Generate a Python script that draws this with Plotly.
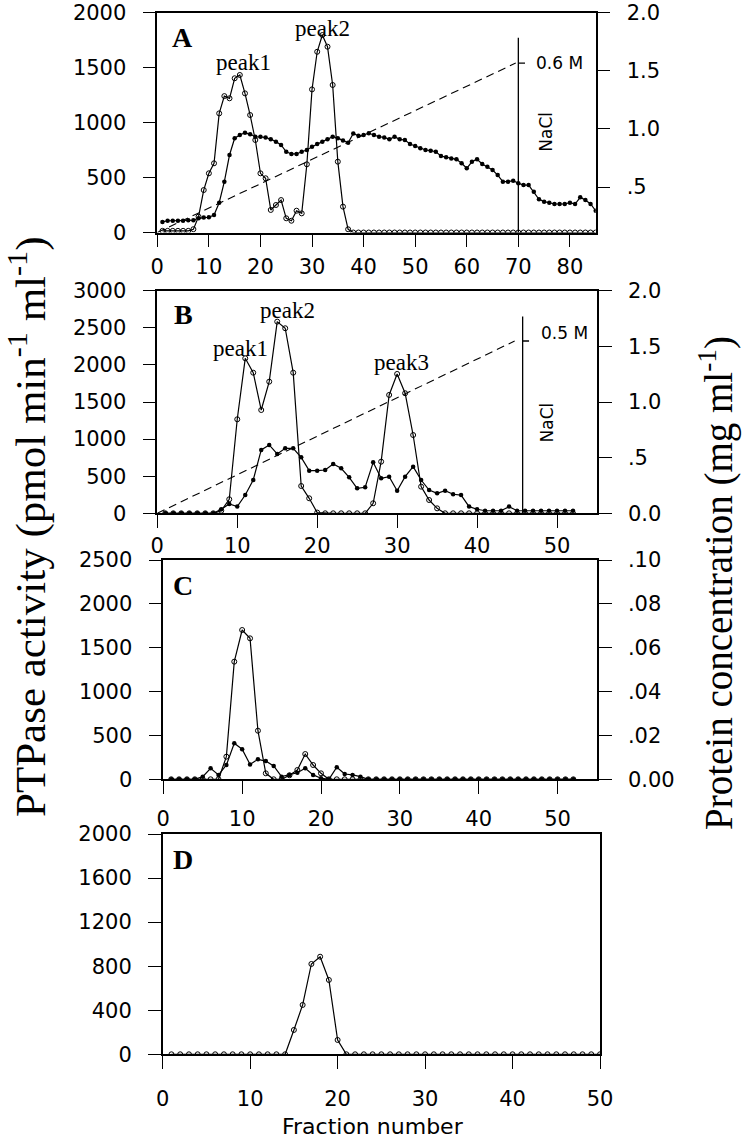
import plotly.graph_objects as go

# ---------------- DATA ----------------
# Panel A
frac_a = list(range(1, 86))
act_a = [15, 15, 15, 15, 15, 15, 30, 144, 386, 538, 629, 1083, 1240, 1220, 1402, 1432, 1265,
         1068, 841, 538, 493, 205, 250, 295, 129, 107, 198, 174, 620, 1301, 1643, 1795, 1689,
         1341, 644, 235, 29] + [0] * 48
prot_a = [0.20, 0.21, 0.21, 0.21, 0.21, 0.215, 0.215,
          0.231, 0.237, 0.24, 0.26,
          0.365, 0.546, 0.775, 0.919, 0.947, 0.967, 0.953, 0.932, 0.932, 0.926, 0.91, 0.89,
          0.861, 0.803, 0.784, 0.784, 0.803, 0.818, 0.846, 0.87, 0.89, 0.91, 0.932, 0.92, 0.9,
          0.88, 0.96, 0.94, 0.947, 0.962,
          0.947, 0.932, 0.926, 0.91, 0.932, 0.91, 0.904, 0.87, 0.852, 0.833, 0.818, 0.812,
          0.803, 0.766, 0.755, 0.746, 0.738, 0.704, 0.661, 0.717, 0.738, 0.698, 0.675, 0.646,
          0.603, 0.546, 0.546, 0.554, 0.532, 0.517, 0.517, 0.46, 0.394, 0.374, 0.365, 0.354,
          0.354, 0.354, 0.365, 0.354, 0.411, 0.388, 0.354, 0.296]
nacl_a_frac = [0, 69.5]
nacl_a_m = [0, 0.6]
nacl_a_line_frac = [70, 70]
nacl_a_line_m = [0, 0.69]
nacl_a_tick_frac = [70, 71.3]
nacl_a_tick_m = [0.6, 0.6]

# Panel B
frac_b = list(range(1, 53))
act_b = [0, 0, 0, 0, 0, 0, 0, 35, 189, 1267, 2089, 1895, 1392, 1774, 2583, 2494, 1895, 368,
         202, 10, 0, 0, 0, 0, 0, 0, 135, 696, 1595, 1878, 1618, 1055, 359, 179, 67] + [0] * 17
prot_b = [0, 0, 0, 0, 0, 0, 0, 0.036, 0.084, 0.06, 0.164, 0.299, 0.569, 0.614, 0.533, 0.584,
          0.584, 0.503, 0.383, 0.383, 0.389, 0.443, 0.404, 0.323, 0.225, 0.234, 0.458, 0.314,
          0.329, 0.203, 0.329, 0.419, 0.299, 0.209, 0.18, 0.203, 0.171, 0.164, 0.06, 0.036,
          0.023, 0.023, 0.023, 0.06, 0.023, 0.023, 0.023, 0.023, 0.023, 0.023, 0.023, 0.023]
nacl_b_frac = [0, 44.7]
nacl_b_m = [0, 0.5]
nacl_b_line_frac = [45.7, 45.7]
nacl_b_line_m = [0, 0.571]
nacl_b_tick_frac = [45.7, 46.5]
nacl_b_tick_m = [0.5, 0.5]

# Panel C
frac_c = list(range(1, 53))
act_c = [0, 0, 0, 0, 0, 0, 0, 258, 1341, 1702, 1607, 554, 68, 0, 0, 46, 106, 288, 163, 68] + [0] * 32
prot_c = [0, 0, 0, 0, 0.0012, 0.005, 0.002, 0.0065, 0.0164, 0.0137, 0.0068, 0.0091, 0.0083,
          0.0061, 0.0012, 0.002, 0.003, 0.005, 0.002, 0.0005, 0, 0.0055, 0.0024, 0.002,
          0.0012] + [0] * 27

# Panel D
frac_d = list(range(1, 51))
act_d = [0] * 14 + [221, 448, 820, 886, 675, 130] + [0] * 30

# tick labels
ticks_a_left = [0, 500, 1000, 1500, 2000]
ticks_a_right = [0.5, 1.0, 1.5, 2.0]
ticktext_a_right = [".5", "1.0", "1.5", "2.0"]
ticks_b_left = [0, 500, 1000, 1500, 2000, 2500, 3000]
ticks_b_right = [0, 0.5, 1.0, 1.5, 2.0]
ticktext_b_right = ["0.0", ".5", "1.0", "1.5", "2.0"]
ticks_c_left = [0, 500, 1000, 1500, 2000, 2500]
ticks_c_right = [0, 0.02, 0.04, 0.06, 0.08, 0.10]
ticktext_c_right = ["0.00", ".02", ".04", ".06", ".08", ".10"]
ticks_d_left = [0, 400, 800, 1200, 1600, 2000]
ticks_x_a = [0, 10, 20, 30, 40, 50, 60, 70, 80]
ticks_x_bcd = [0, 10, 20, 30, 40, 50]

# ---------------- LAYOUT HELPERS ----------------
W, H = 747, 1138


def px_x(v):
    return v / W


def px_y(v):
    return 1 - v / H


TICKFONT = dict(family="DejaVu Sans", size=21, color="black")
SERIF = "Liberation Serif, Times New Roman, serif"

fig = go.Figure()

line_style = dict(color="black", width=1.2)
open_marker = dict(symbol="circle-open", size=5, color="black", line=dict(width=1, color="black"))
fill_marker = dict(symbol="circle", size=4.5, color="black")
dash_style = dict(color="black", width=1.1, dash="8px,5px")
vline_style = dict(color="black", width=1.3)


def add_series(x, y, xa, ya, marker):
    fig.add_trace(go.Scatter(x=x, y=y, xaxis=xa, yaxis=ya, mode="lines+markers",
                             line=line_style, marker=marker, showlegend=False, hoverinfo="skip"))


def add_line(x, y, xa, ya, style):
    fig.add_trace(go.Scatter(x=x, y=y, xaxis=xa, yaxis=ya, mode="lines",
                             line=style, showlegend=False, hoverinfo="skip"))


# Panel A traces
add_series(frac_a, act_a, "x", "y", open_marker)
add_series(frac_a, prot_a, "x", "y2", fill_marker)
add_line(nacl_a_frac, nacl_a_m, "x", "y3", dash_style)
add_line(nacl_a_line_frac, nacl_a_line_m, "x", "y3", vline_style)
add_line(nacl_a_tick_frac, nacl_a_tick_m, "x", "y3", vline_style)

# Panel B traces
add_series(frac_b, act_b, "x2", "y4", open_marker)
add_series(frac_b, prot_b, "x2", "y5", fill_marker)
add_line(nacl_b_frac, nacl_b_m, "x2", "y6", dash_style)
add_line(nacl_b_line_frac, nacl_b_line_m, "x2", "y6", vline_style)
add_line(nacl_b_tick_frac, nacl_b_tick_m, "x2", "y6", vline_style)

# Panel C traces
add_series(frac_c, act_c, "x3", "y7", open_marker)
add_series(frac_c, prot_c, "x3", "y8", fill_marker)

# Panel D traces
add_series(frac_d, act_d, "x4", "y9", open_marker)

AX = dict(showgrid=False, zeroline=False, showline=True, linecolor="black", linewidth=1.5,
          ticks="outside", ticklen=13, tickwidth=1.3, tickcolor="black", tickfont=TICKFONT,
          automargin=False)


def xax(dom, rng, tv, anchor, standoff):
    d = dict(AX)
    d.update(domain=dom, range=rng, tickvals=tv, anchor=anchor, mirror=True,
             ticklabelstandoff=standoff)
    return d


def yleft(dom, rng, tv, anchor):
    d = dict(AX)
    d.update(domain=dom, range=rng, tickvals=tv, anchor=anchor, mirror=True,
             ticklabelstandoff=12)
    return d


def yright(rng, tv, tt, anchor, over):
    d = dict(AX)
    d.update(range=rng, tickvals=tv, ticktext=tt, anchor=anchor, overlaying=over,
             side="right", ticklabelstandoff=12)
    return d


def yhidden(rng, over):
    return dict(range=rng, overlaying=over, visible=False, showgrid=False, zeroline=False)


# pixel boxes of panels (page pixels)
A_x = [px_x(157.3), px_x(595.7)]
A_y = [px_y(232.5), px_y(12.5)]
B_x = [px_x(157.3), px_x(597)]
B_y = [px_y(513.3), px_y(290.7)]
C_x = [px_x(163.3), px_x(597)]
C_y = [px_y(779.3), px_y(560)]
D_x = [px_x(162.7), px_x(600)]
D_y = [px_y(1054.3), px_y(834)]

fig.update_layout(
    width=W, height=H, margin=dict(l=0, r=0, t=0, b=0, pad=0, autoexpand=False),
    paper_bgcolor="white", plot_bgcolor="white", showlegend=False,
    xaxis=xax(A_x, [0, 85], ticks_x_a, "y", 2),
    yaxis=yleft(A_y, [0, 2000], ticks_a_left, "x"),
    yaxis2=yright([0.109, 2.0], ticks_a_right, ticktext_a_right, "x", "y"),
    yaxis3=yhidden([0, 0.779], "y"),
    xaxis2=xax(B_x, [0, 55], ticks_x_bcd, "y4", 0),
    yaxis4=yleft(B_y, [0, 3000], ticks_b_left, "x2"),
    yaxis5=yright([0, 2.0], ticks_b_right, ticktext_b_right, "x2", "y4"),
    yaxis6=yhidden([0, 0.646], "y4"),
    xaxis3=xax(C_x, [0, 55], ticks_x_bcd, "y7", 7),
    yaxis7=yleft(C_y, [0, 2500], ticks_c_left, "x3"),
    yaxis8=yright([0, 0.10], ticks_c_right, ticktext_c_right, "x3", "y7"),
    xaxis4=xax(D_x, [0, 50], ticks_x_bcd, "y9", 12),
    yaxis9=yleft(D_y, [0, 2000], ticks_d_left, "x4"),
)

ann = []


def label(text, x, y, xref, yref, size, family=SERIF, bold=False, xanchor="center", angle=0):
    t = f"<b>{text}</b>" if bold else text
    ann.append(dict(text=t, x=x, y=y, xref=xref, yref=yref, showarrow=False,
                    xanchor=xanchor, yanchor="middle", textangle=angle,
                    font=dict(family=family, size=size, color="black")))


# panel letters
label("A", px_x(182.5), px_y(38), "paper", "paper", 28, bold=True)
label("B", px_x(183), px_y(315), "paper", "paper", 28, bold=True)
label("C", px_x(182.5), px_y(585), "paper", "paper", 28, bold=True)
label("D", px_x(182.5), px_y(859), "paper", "paper", 28, bold=True)

# peak labels
label("peak1", 16.7, 1545, "x", "y", 23)
label("peak2", 32.1, 1854, "x", "y", 23)
label("peak1", 10.4, 2215, "x2", "y4", 23)
label("peak2", 16.3, 2727, "x2", "y4", 23)
label("peak3", 30.5, 2033, "x2", "y4", 23)

# NaCl labels
label("0.6 M", 73.0, 0.6, "x", "y3", 17, family="DejaVu Sans", xanchor="left")
label("NaCl", 75.3, 0.356, "x", "y3", 17, family="DejaVu Sans", angle=-90)
label("0.5 M", 47.7, 0.522, "x2", "y6", 17, family="DejaVu Sans", xanchor="left")
label("NaCl", 48.8, 0.265, "x2", "y6", 17, family="DejaVu Sans", angle=-90)

# axis titles
label("PTPase activity (pmol min<sup>-1</sup> ml<sup>-1</sup>)", px_x(28), px_y(527),
      "paper", "paper", 43, angle=-90)
label("Protein concentration (mg ml<sup>-1</sup>)", px_x(716), px_y(583),
      "paper", "paper", 39, angle=-90)
label("Fraction number", px_x(373), px_y(1126), "paper", "paper", 22, family="DejaVu Sans")

fig.update_layout(annotations=ann)
# remove the browser's default 8px body margin so the figure sits at the page origin
fig.write_html("out.html", config={"displayModeBar": False},
               post_script="document.body.style.margin='0';")
